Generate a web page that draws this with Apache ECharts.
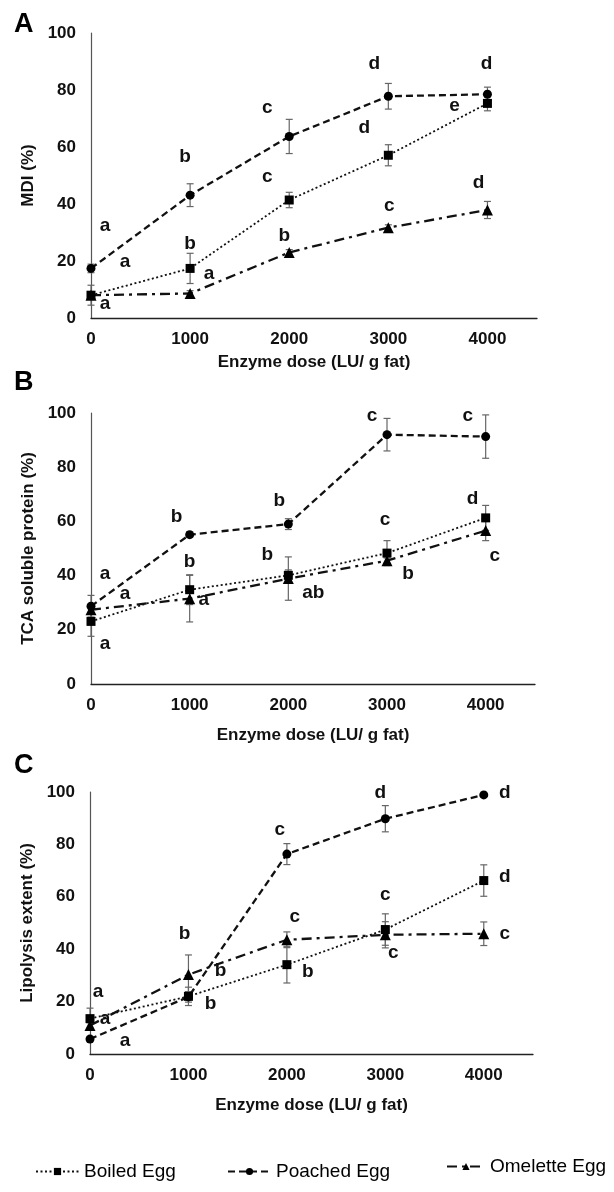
<!DOCTYPE html>
<html><head><meta charset="utf-8">
<script src="https://cdn.jsdelivr.net/npm/echarts@6/dist/echarts.min.js"></script>
<style>html,body{margin:0;padding:0;background:#fff}#c{width:614px;height:1192px}</style>
</head><body><div id="c"></div>
<script>
// ---------- data ----------
var doses = [0, 1000, 2000, 3000, 4000];
var seriesNames = ['Boiled Egg', 'Poached Egg', 'Omelette Egg'];
var xTitle = 'Enzyme dose (LU/ g fat)';
var panelLetters = ['A', 'B', 'C'];
var yTitles = ['MDI (%)', 'TCA soluble protein (%)', 'Lipolysis extent (%)'];

// Panel A: MDI
var boiledA   = [8.0, 17.4, 41.4, 57.1, 75.3];
var poachedA  = [17.4, 43.1, 63.7, 77.8, 78.5];
var omeletteA = [8.0, 8.6, 23.0, 31.7, 37.9];
var boiledErrA   = [3.5, 5.3, 2.7, 3.7, 2.6];
var poachedErrA  = [1.5, 4.0, 6.0, 4.5, 2.5];
var omeletteErrA = [0.8, 1.0, 1.0, 1.0, 3.0];
var boiledLetA   = ['a', 'b', 'c', 'd', 'e'];
var poachedLetA  = ['a', 'b', 'c', 'd', 'd'];
var omeletteLetA = ['a', 'a', 'b', 'c', 'd'];

// Panel B: TCA soluble protein
var boiledB   = [23.1, 34.8, 40.1, 48.3, 61.3];
var poachedB  = [28.7, 55.1, 59.0, 92.0, 91.3];
var omeletteB = [27.4, 31.5, 38.9, 45.5, 56.6];
var boiledErrB   = [5.5, 5.5, 2.0, 4.6, 4.6];
var poachedErrB  = [4.0, 1.0, 2.0, 6.0, 8.0];
var omeletteErrB = [1.5, 8.6, 8.0, 1.0, 3.7];
var boiledLetB   = ['a', 'b', 'b', 'c', 'd'];
var poachedLetB  = ['a', 'b', 'b', 'c', 'c'];
var omeletteLetB = ['a', 'a', 'ab', 'b', 'c'];

// Panel C: Lipolysis extent
var boiledC   = [13.5, 22.0, 34.1, 47.5, 66.2];
var poachedC  = [5.7, 21.8, 76.3, 89.8, 98.9];
var omeletteC = [10.9, 30.3, 43.6, 45.5, 45.9];
var boiledErrC   = [4.0, 3.5, 7.0, 6.0, 6.0];
var poachedErrC  = [1.0, 2.0, 4.0, 5.0, 0.5];
var omeletteErrC = [1.0, 7.5, 3.0, 5.0, 4.5];
var boiledLetC   = ['a', 'b', 'b', 'c', 'd'];
var poachedLetC  = ['a', 'b', 'c', 'd', 'd'];
var omeletteLetC = ['a', 'b', 'c', 'c', 'c'];

// ---------- layout (pixel offsets of significance letters from their points) ----------
var letterOffsets = [
  { boiled: [[34,-33],[0,-25],[-22,-23],[-24,-27],[-33,2]],
    poached: [[14,-43],[-5,-38],[-22,-29],[-14,-33],[-1,-31]],
    omelette: [[14,9],[19,-20],[-5,-17],[1,-22],[-9,-27]] },
  { boiled: [[14,22],[0,-28],[-21,-21],[-2,-33],[-13,-19]],
    poached: [[14,-32],[-13,-18],[-9,-23],[-15,-19],[-18,-21]],
    omelette: [[34,-16],[14,1],[25,14],[21,13],[9,25]] },
  { boiled: [[8,-27],[22,7],[21,7],[0,-35],[21,-4]],
    poached: [[35,2],[32,-26],[-7,-24],[-5,-26],[21,-2]],
    omelette: [[15,-7],[-4,-41],[8,-23],[8,18],[21,0]] }
];
var grids = [
  { left: 91, top: 33, width: 446, height: 285 },
  { left: 91, top: 413, width: 444, height: 271 },
  { left: 90, top: 792, width: 443, height: 262 }
];
var xNameGaps = [36, 43, 43];
var letterTops = [11, 369, 752];

var panels = [
  { boiled: boiledA, poached: poachedA, omelette: omeletteA,
    be: boiledErrA, pe: poachedErrA, oe: omeletteErrA,
    bl: boiledLetA, pl: poachedLetA, ol: omeletteLetA },
  { boiled: boiledB, poached: poachedB, omelette: omeletteB,
    be: boiledErrB, pe: poachedErrB, oe: omeletteErrB,
    bl: boiledLetB, pl: poachedLetB, ol: omeletteLetB },
  { boiled: boiledC, poached: poachedC, omelette: omeletteC,
    be: boiledErrC, pe: poachedErrC, oe: omeletteErrC,
    bl: boiledLetC, pl: poachedLetC, ol: omeletteLetC }
];

var FONT = 'Liberation Sans, Arial, sans-serif';
var TXT = '#111';
var styles = {
  boiled:   { name: seriesNames[0], symbol: 'rect', size: 9, line: { type: [2, 2.5], width: 1.8 } },
  poached:  { name: seriesNames[1], symbol: 'circle', size: 9, line: { type: [7, 4], width: 2.3 } },
  omelette: { name: seriesNames[2], symbol: 'triangle', size: 11, line: { type: [10, 5, 3, 5], width: 2.3 } }
};

function pairs(vals) { return doses.map(function (d, i) { return [d, vals[i]]; }); }

var xAxes = [], yAxes = [], series = [], graphics = [];
grids.forEach(function (g, pi) {
  xAxes.push({
    gridIndex: pi, type: 'value', min: 0, max: 4500, interval: 1000,
    name: xTitle, nameLocation: 'middle', nameGap: xNameGaps[pi],
    nameTextStyle: { fontFamily: FONT, fontWeight: 'bold', fontSize: 17, color: TXT },
    axisLine: { show: true, lineStyle: { color: '#222', width: 1.3 } },
    axisTick: { show: false }, splitLine: { show: false },
    axisLabel: { showMaxLabel: false, fontFamily: FONT, fontWeight: 'bold', fontSize: 17, color: TXT, margin: 13,
      formatter: function (v) { return String(v); } }
  });
  yAxes.push({
    gridIndex: pi, type: 'value', min: 0, max: 100, interval: 20,
    name: yTitles[pi], nameLocation: 'middle', nameGap: 47, nameRotate: 90,
    nameTextStyle: { fontFamily: FONT, fontWeight: 'bold', fontSize: 17, color: TXT },
    axisLine: { show: true, lineStyle: { color: '#555', width: 1.2 } },
    axisTick: { show: false }, splitLine: { show: false },
    axisLabel: { fontFamily: FONT, fontWeight: 'bold', fontSize: 17, color: TXT, margin: 15 }
  });
  graphics.push({
    type: 'text', left: 14, top: letterTops[pi],
    style: { text: panelLetters[pi], font: 'bold 27px ' + FONT, fill: '#000' }
  });

  var p = panels[pi];
  var keys = [['boiled', 'be', 'bl'], ['poached', 'pe', 'pl'], ['omelette', 'oe', 'ol']];
  keys.forEach(function (k) {
    var st = styles[k[0]];
    var vals = p[k[0]], errs = p[k[1]], lets = p[k[2]];
    // error bars
    series.push({
      type: 'custom', xAxisIndex: pi, yAxisIndex: pi, silent: true, z: 1,
      data: doses.map(function (d, i) { return [d, vals[i], errs[i]]; }),
      renderItem: function (params, api) {
        var x = api.value(0), y = api.value(1), e = api.value(2);
        var top = api.coord([x, y + e]), bot = api.coord([x, y - e]);
        var w = 3.5;
        var ls = { stroke: '#666', lineWidth: 1.2 };
        return { type: 'group', children: [
          { type: 'line', shape: { x1: top[0], y1: top[1], x2: bot[0], y2: bot[1] }, style: ls },
          { type: 'line', shape: { x1: top[0] - w, y1: top[1], x2: top[0] + w, y2: top[1] }, style: ls },
          { type: 'line', shape: { x1: bot[0] - w, y1: bot[1], x2: bot[0] + w, y2: bot[1] }, style: ls }
        ]};
      }
    });
    // line
    series.push({
      type: 'line', name: st.name, xAxisIndex: pi, yAxisIndex: pi, z: 3,
      data: pairs(vals), symbol: st.symbol, symbolSize: st.size, showAllSymbol: true,
      itemStyle: { color: '#000', opacity: 1 },
      lineStyle: { color: '#111', width: st.line.width, type: st.line.type },
      emphasis: { disabled: true }, animation: false
    });
    // significance letters
    var offs = letterOffsets[pi][k[0]];
    series.push({
      type: 'scatter', xAxisIndex: pi, yAxisIndex: pi, symbolSize: 0, silent: true, z: 4,
      itemStyle: { opacity: 1 },
      data: doses.map(function (d, i) {
        return { value: [d, vals[i]], label: { formatter: lets[i], offset: offs[i] } };
      }),
      label: { show: true, position: 'inside', fontFamily: FONT, fontWeight: 'bold', fontSize: 19, color: TXT },
      animation: false
    });
  });
});

var legendCommon = {
  bottom: 6, itemWidth: 43, itemHeight: 9,
  textStyle: { fontFamily: FONT, fontSize: 19, color: '#000' },
  selectedMode: false
};
var legends = [
  Object.assign({}, legendCommon, { left: 30, data: [seriesNames[0]] }),
  Object.assign({}, legendCommon, { left: 222, data: [seriesNames[1]] }),
  Object.assign({}, legendCommon, { left: 441, bottom: 11, itemWidth: 38, data: [seriesNames[2]] })
];

var chart = echarts.init(document.getElementById('c'), null, { renderer: 'canvas' });
chart.setOption({
  backgroundColor: '#fff',
  animation: false,
  grid: grids,
  xAxis: xAxes,
  yAxis: yAxes,
  legend: legends,
  graphic: graphics,
  series: series
});
</script></body></html>
